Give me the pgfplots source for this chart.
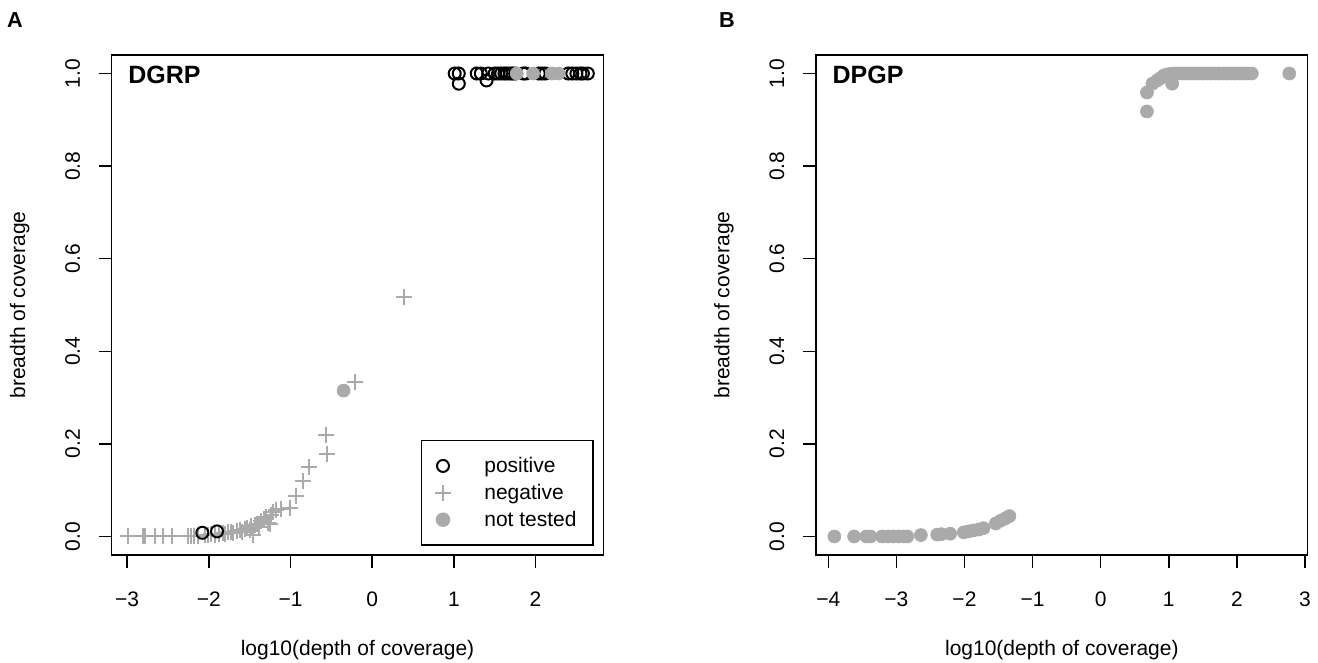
\documentclass[border=0pt]{standalone}
\usepackage{fontspec}
\setmainfont{Liberation Sans}
\usepackage{pgfplots}
\pgfplotsset{compat=1.18}
\definecolor{ptgray}{RGB}{170,170,170}
\newcommand\fs{\fontsize{12.6}{15}\selectfont}

\pgfplotsset{
  rpanel/.style={
    scale only axis, width=295pt, height=300pt,
    anchor=south west,
    ymin=-0.04, ymax=1.04,
    axis line style={line width=0.9pt},
    every tick/.style={black, line width=0.9pt},
    tick align=outside, tick pos=left,
    major tick length=7.8pt,
    ytick={0,0.2,0.4,0.6,0.8,1},
    yticklabels={0.0,0.2,0.4,0.6,0.8,1.0},
    yticklabel style={xshift=-11pt, rotate=90, anchor=south, inner sep=0pt, font=\fs},
    xticklabel style={yshift=-14pt, anchor=north, inner sep=0pt, font=\fs},
    ylabel={breadth of coverage},
    xlabel={log10(depth of coverage)},
    ylabel style={at={(axis description cs:-0.187,0.5)}, anchor=center, font=\fs},
    xlabel style={at={(axis description cs:0.5,-0.19)}, anchor=center, font=\fs},
  },
  negmark/.style={only marks, mark=+, mark size=4.8pt, ptgray, line width=1.2pt},
  posmark/.style={only marks, mark=o, mark size=3.6pt, black, line width=1.2pt},
  ntmark/.style={only marks, mark=*, mark size=3.9pt, ptgray, mark options={draw=ptgray, fill=ptgray}},
}

\begin{document}
\begin{tikzpicture}[font=\fs]
\useasboundingbox (0pt,0pt) rectangle (790.8pt,397.8pt);

\begin{axis}[rpanel, at={(67.0pt,64.8pt)},
  xmin=-3.19, xmax=2.83,
  xtick={-3,-2,-1,0,1,2},
  xticklabels={−3,−2,−1,0,1,2},
  legend cell align=left,
  legend style={at={(0.981,0.018)}, anchor=south east, draw=black,
    line width=0.9pt, font=\fs, row sep=1.5pt, inner xsep=8pt, inner ysep=8pt},
  /tikz/every odd column/.append style={column sep=18pt},
]
\addplot[negmark, forget plot] coordinates {
(-2.99,0) (-2.81,0) (-2.78,0.001) (-2.66,0) (-2.56,0) (-2.45,0)
(-2.26,0.001) (-2.22,0.002) (-2.18,0.001) (-2.13,0.002) (-2.05,0.003)
(-2.01,0.004) (-1.97,0.005) (-1.93,0.004) (-1.87,0.006) (-1.83,0.007)
(-1.80,0.005) (-1.77,0.009) (-1.73,0.010) (-1.70,0.007) (-1.66,0.012)
(-1.62,0.013) (-1.59,0.010) (-1.56,0.016) (-1.53,0.019) (-1.50,0.014)
(-1.48,0.022) (-1.46,0.004) (-1.44,0.025) (-1.41,0.028) (-1.38,0.020)
(-1.36,0.033) (-1.33,0.037) (-1.30,0.042) (-1.28,0.030) (-1.25,0.026)
(-1.24,0.047) (-1.21,0.052) (-1.18,0.057) (-1.12,0.060) (-1.01,0.062)
(-0.93,0.088) (-0.85,0.120) (-0.77,0.149) (-0.56,0.220) (-0.55,0.178)
(-0.21,0.334) (0.39,0.517)
};
\addplot[posmark, forget plot] coordinates {
(-2.08,0.008) (-1.90,0.011)
(1.01,1) (1.06,1) (1.06,0.978) (1.28,1) (1.33,1) (1.40,0.985) (1.42,1)
(1.50,1) (1.54,1) (1.58,1) (1.62,1) (1.65,1) (1.69,1) (1.72,1) (1.75,1)
(1.85,1) (1.88,1) (2.04,1) (2.08,1) (2.12,1) (2.40,1) (2.45,1) (2.50,1)
(2.55,1) (2.58,1) (2.64,1)
};
\addplot[ntmark, forget plot] coordinates {
(-0.35,0.315) (1.77,1) (1.97,1) (2.20,1) (2.28,1)
};
\addlegendimage{posmark}
\addlegendentry{positive}
\addlegendimage{negmark}
\addlegendentry{negative}
\addlegendimage{ntmark}
\addlegendentry{not tested}
\node[anchor=west, inner sep=0pt, font=\fontsize{15}{18}\selectfont\bfseries] at (axis cs:-2.99,0.996) {DGRP};
\end{axis}

\begin{axis}[rpanel, at={(489.6pt,64.8pt)},
  xmin=-4.18, xmax=3.04,
  xtick={-4,-3,-2,-1,0,1,2,3},
  xticklabels={−4,−3,−2,−1,0,1,2,3},
]
\addplot[ntmark] coordinates {
(-3.91,0) (-3.62,0) (-3.44,0) (-3.38,0) (-3.21,0) (-3.12,0) (-3.04,0)
(-2.97,0) (-2.89,0) (-2.84,0) (-2.64,0.003) (-2.40,0.004) (-2.34,0.005)
(-2.21,0.006) (-2.01,0.009) (-1.94,0.011) (-1.87,0.013) (-1.79,0.015)
(-1.72,0.018) (-1.54,0.028) (-1.47,0.034) (-1.40,0.039) (-1.34,0.044)
(0.68,0.918) (0.68,0.959) (0.76,0.978) (0.83,0.985) (0.88,0.990)
(0.93,0.996) (1.05,0.978) (0.98,0.998) (1.02,0.999) (1.08,1) (1.14,1)
(1.20,1) (1.26,1) (1.32,1) (1.38,1) (1.44,1) (1.50,1) (1.56,1) (1.62,1)
(1.68,1) (1.74,1) (1.80,1) (1.86,1) (1.92,1) (1.98,1) (2.04,1) (2.10,1)
(2.16,1) (2.22,1) (2.77,1)
};
\node[anchor=west, inner sep=0pt, font=\fontsize{15}{18}\selectfont\bfseries] at (axis cs:-3.94,0.996) {DPGP};
\end{axis}

\node[anchor=center, font=\fontsize{13}{15}\selectfont\bfseries] at (9pt,385.8pt) {A};
\node[anchor=center, font=\fontsize{13}{15}\selectfont\bfseries] at (436.2pt,385.8pt) {B};
\end{tikzpicture}
\end{document}
